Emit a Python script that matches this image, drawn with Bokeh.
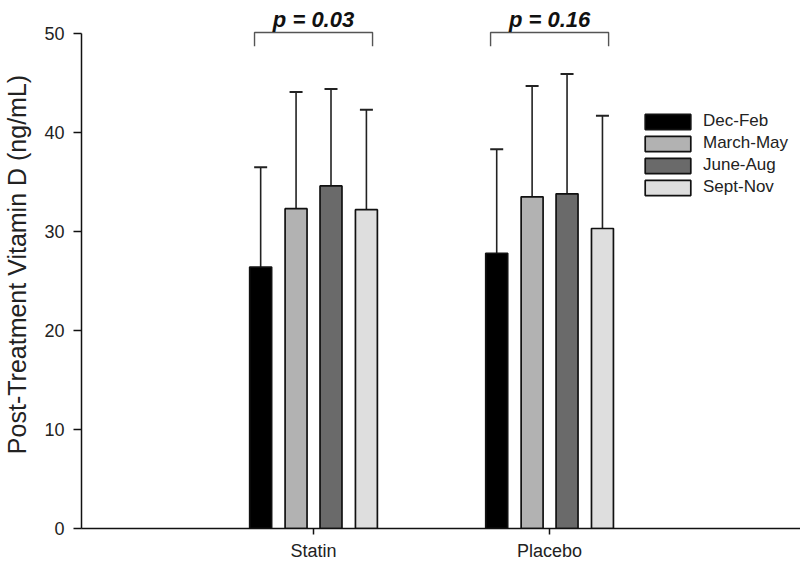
from bokeh.plotting import figure
from bokeh.models import ColumnDataSource, Whisker, TeeHead, FixedTicker, Range1d
from bokeh.core.properties import value
from bokeh.transform import dodge
from bokeh.embed import file_html
from bokeh.resources import INLINE

groups = ["Statin", "Placebo"]
group_pos = [1, 2]
seasons = ["Dec-Feb", "March-May", "June-Aug", "Sept-Nov"]
season_colors = ["#000000", "#b2b2b2", "#6a6a6a", "#dedede"]
season_offsets = [-0.224, -0.074, 0.074, 0.224]
means = {
    "Dec-Feb":   [26.4, 27.8],
    "March-May": [32.3, 33.5],
    "June-Aug":  [34.6, 33.8],
    "Sept-Nov":  [32.2, 30.3],
}
upper_err = {
    "Dec-Feb":   [36.5, 38.3],
    "March-May": [44.1, 44.7],
    "June-Aug":  [44.4, 45.9],
    "Sept-Nov":  [42.3, 41.7],
}
p_labels = ["p = 0.03", "p = 0.16"]
bracket_half = 0.25
bracket_top = 50.1
bracket_foot = 48.7
p_label_y = 51.41

FONT = "Liberation Sans"

p = figure(width=800, height=563, output_backend="svg", toolbar_location=None,
           x_range=Range1d(0.017, 3.063), y_range=Range1d(0, 53.33),
           min_border_left=78, min_border_right=0, min_border_top=0, min_border_bottom=35)
p.outline_line_color = None
p.grid.visible = False
p.background_fill_color = "white"
p.border_fill_color = "white"

for s, col, off in zip(seasons, season_colors, season_offsets):
    src = ColumnDataSource(dict(x=group_pos, top=means[s], up=upper_err[s]))
    p.vbar(x=dodge("x", off), top="top", width=0.093, bottom=0, source=src,
           fill_color=col, line_color="#111111", line_width=1.7, legend_label=s)
    w = Whisker(base=dodge("x", off), lower="top", upper="up", source=src,
                dimension="height", line_color="#222222", line_width=1.6,
                lower_head=None,
                upper_head=TeeHead(size=13, line_color="#222222", line_width=2))
    p.add_layout(w)

# significance brackets
bx, by = [], []
for g in group_pos:
    bx.append([g - bracket_half, g - bracket_half, g + bracket_half, g + bracket_half])
    by.append([bracket_foot, bracket_top, bracket_top, bracket_foot])
p.multi_line(xs=bx, ys=by, line_color="#555555", line_width=1.4)
p.text(x=group_pos, y=[p_label_y] * len(group_pos), text=p_labels,
       text_font=value(FONT), text_font_style="bold italic", text_font_size="22px",
       text_align="center", text_baseline="alphabetic", text_color="#111111")

# axes
yax = p.yaxis[0]
yax.bounds = (0, 50)
yax.ticker = FixedTicker(ticks=[0, 10, 20, 30, 40, 50])
yax.minor_tick_line_color = None
yax.major_tick_in = 0
yax.major_tick_out = 8
yax.axis_line_width = 1.5
yax.major_tick_line_width = 1.5
yax.axis_line_color = "#111111"
yax.major_tick_line_color = "#111111"
yax.major_label_text_font = FONT
yax.major_label_text_font_size = "18px"
yax.major_label_text_color = "#222222"
yax.major_label_standoff = 9
yax.axis_label = "Post-Treatment Vitamin D (ng/mL)"
yax.axis_label_text_font = FONT
yax.axis_label_text_font_size = "25px"
yax.axis_label_text_font_style = "normal"
yax.axis_label_text_color = "#222222"
yax.axis_label_standoff = 10

xax = p.xaxis[0]
xax.ticker = FixedTicker(ticks=group_pos)
xax.major_label_overrides = {g: n for g, n in zip(group_pos, groups)}
xax.minor_tick_line_color = None
xax.major_tick_in = 0
xax.major_tick_out = 6
xax.axis_line_width = 1.5
xax.major_tick_line_width = 1.5
xax.axis_line_color = "#111111"
xax.major_tick_line_color = "#111111"
xax.major_label_text_font = FONT
xax.major_label_text_font_size = "18px"
xax.major_label_text_color = "#222222"
xax.major_label_standoff = 6

lg = p.legend[0]
lg.location = (558, 331)
lg.border_line_color = None
lg.background_fill_alpha = 0
lg.padding = 0
lg.margin = 0
lg.spacing = 2
lg.glyph_width = 57
lg.glyph_height = 19
lg.label_height = 19
lg.label_standoff = 7
lg.label_text_font = FONT
lg.label_text_font_size = "17px"
lg.label_text_color = "#222222"
lg.label_text_baseline = "middle"

open("out.html", "w").write(file_html(p, INLINE))
